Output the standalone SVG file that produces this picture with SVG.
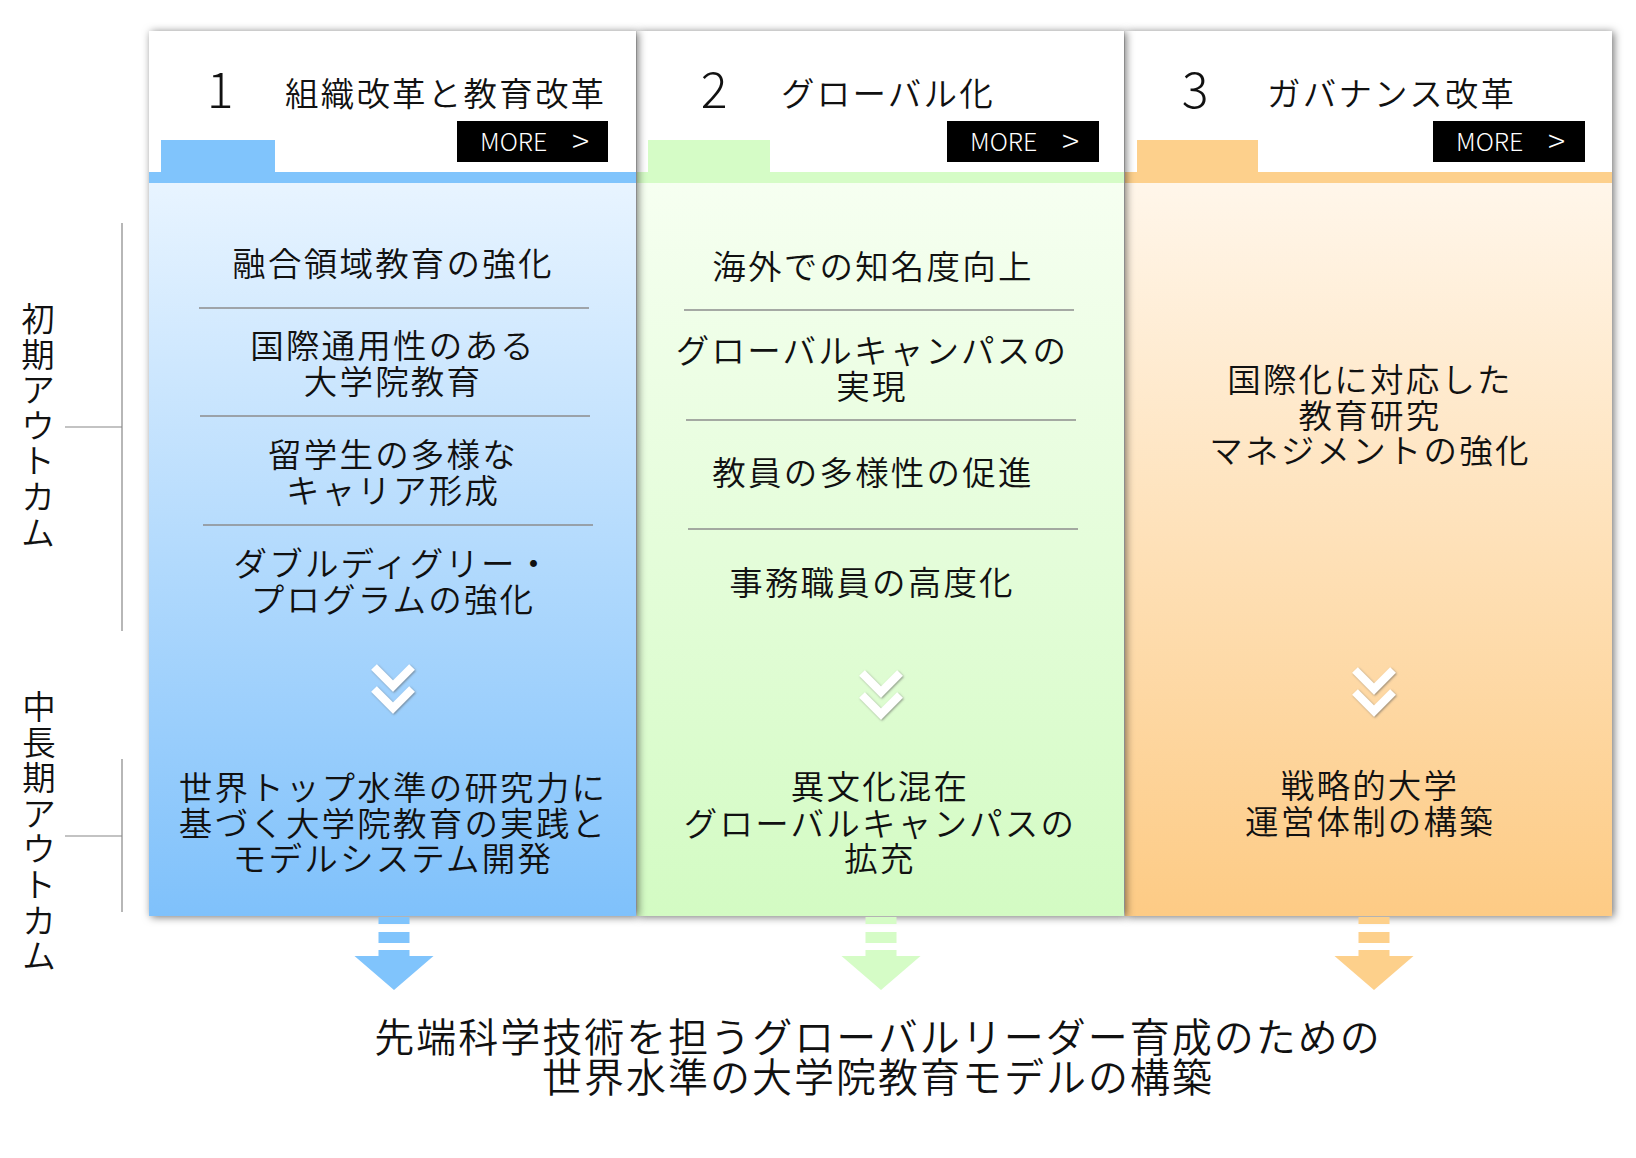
<svg xmlns="http://www.w3.org/2000/svg" width="1636" height="1158" viewBox="0 0 1636 1158">
<defs>
<linearGradient id="gBlue" x1="0" y1="0" x2="0" y2="1"><stop offset="0" stop-color="#e8f4ff"/><stop offset="1" stop-color="#7fc1fb"/></linearGradient>
<linearGradient id="gGreen" x1="0" y1="0" x2="0" y2="1"><stop offset="0" stop-color="#f6fff1"/><stop offset="1" stop-color="#d3fbc3"/></linearGradient>
<linearGradient id="gOrange" x1="0" y1="0" x2="0" y2="1"><stop offset="0" stop-color="#fff6ea"/><stop offset="1" stop-color="#fdcb85"/></linearGradient>
<filter id="sh" x="-10%" y="-10%" width="120%" height="120%"><feDropShadow dx="2" dy="1" stdDeviation="4" flood-color="#000" flood-opacity="0.55"/></filter>
<filter id="shc" x="-30%" y="-30%" width="160%" height="160%"><feDropShadow dx="1" dy="1" stdDeviation="1.2" flood-color="#555" flood-opacity="0.6"/></filter>
</defs>
<style>
.t{font-family:"Noto Sans CJK JP","Noto Sans",sans-serif;font-weight:350;fill:#111;font-size:33.5px;letter-spacing:2.2px}
.c{text-anchor:middle}
.num{font-family:"Noto Sans CJK JP","Noto Sans",sans-serif;font-weight:300;fill:#111;font-size:50px;text-anchor:middle}
.more{font-family:"Noto Sans CJK JP","Noto Sans",sans-serif;font-weight:300;fill:#fff;font-size:25px}
.gt{font-family:"Noto Sans CJK JP","Noto Sans",sans-serif;font-weight:300;fill:#fff;font-size:32px}
.big{font-family:"Noto Sans CJK JP","Noto Sans",sans-serif;font-weight:350;fill:#111;font-size:40px;letter-spacing:2px;text-anchor:middle}
.sep{stroke:#8c8c8c;stroke-width:1.5}
.brk{stroke:#888;stroke-width:1.2;fill:none}
.chev{fill:none;stroke:#fff;stroke-width:8;stroke-linejoin:miter;stroke-linecap:butt}
</style>

<!-- left labels -->
<g id="label-initial">
<path class="brk" d="M122 223V631M65 427H122"/>
<g class="t c">
<text x="39" y="331">初</text><text x="39" y="367">期</text><text x="39" y="402">ア</text><text x="39" y="438">ウ</text><text x="39" y="473">ト</text><text x="39" y="509">カ</text><text x="39" y="545">ム</text>
</g>
</g>
<g id="label-long">
<path class="brk" d="M122 759V912M65 836H122"/>
<g class="t c">
<text x="40" y="719">中</text><text x="40" y="755">長</text><text x="40" y="790">期</text><text x="40" y="826">ア</text><text x="40" y="861">ウ</text><text x="40" y="897">ト</text><text x="40" y="933">カ</text><text x="40" y="968">ム</text>
</g>
</g>

<!-- panel 3 -->
<g id="panel3">
<g filter="url(#sh)">
<rect x="1125" y="31" width="487" height="141" fill="#fff"/>
<rect x="1125" y="183" width="487" height="733" fill="url(#gOrange)"/>
<rect x="1125" y="172" width="487" height="11" fill="#fdd08c"/>
<rect x="1137" y="140" width="121" height="43" fill="#fdd08c"/>
</g>
<text class="num" x="1195" y="108">3</text>
<text class="t" x="1267" y="106">ガバナンス改革</text>
<rect x="1433" y="121" width="152" height="41" fill="#000"/>
<text class="more" x="1456" y="151">MORE</text><text class="gt" x="1548" y="153">&gt;</text>
<g class="t c">
<text x="1370" y="392">国際化に対応した</text>
<text x="1370" y="428">教育研究</text>
<text x="1370" y="463">マネジメントの強化</text>
<text x="1370" y="798">戦略的大学</text>
<text x="1370" y="834">運営体制の構築</text>
</g>
</g>

<!-- panel 2 -->
<g id="panel2">
<g filter="url(#sh)">
<rect x="637" y="31" width="487" height="141" fill="#fff"/>
<rect x="637" y="183" width="487" height="733" fill="url(#gGreen)"/>
<rect x="637" y="172" width="487" height="11" fill="#d5fcc6"/>
<rect x="648" y="140" width="122" height="43" fill="#d5fcc6"/>
</g>
<text class="num" x="714" y="108">2</text>
<text class="t" x="781" y="106">グローバル化</text>
<rect x="947" y="121" width="152" height="41" fill="#000"/>
<text class="more" x="970" y="151">MORE</text><text class="gt" x="1062" y="153">&gt;</text>
<line class="sep" x1="684" y1="310" x2="1074" y2="310"/>
<line class="sep" x1="686" y1="420" x2="1076" y2="420"/>
<line class="sep" x1="688" y1="529" x2="1078" y2="529"/>
<g class="t c">
<text x="873" y="279">海外での知名度向上</text>
<text x="872" y="363">グローバルキャンパスの</text>
<text x="872" y="399">実現</text>
<text x="873" y="485">教員の多様性の促進</text>
<text x="872" y="595">事務職員の高度化</text>
<text x="880" y="799">異文化混在</text>
<text x="880" y="836">グローバルキャンパスの</text>
<text x="880" y="871">拡充</text>
</g>
</g>

<!-- panel 1 -->
<g id="panel1">
<g filter="url(#sh)">
<rect x="149" y="31" width="487" height="141" fill="#fff"/>
<rect x="149" y="183" width="487" height="733" fill="url(#gBlue)"/>
<rect x="149" y="172" width="487" height="11" fill="#80c4fc"/>
<rect x="161" y="140" width="114" height="43" fill="#80c4fc"/>
</g>
<text class="num" x="220" y="108">1</text>
<text class="t" x="285" y="106">組織改革と教育改革</text>
<rect x="457" y="121" width="151" height="41" fill="#000"/>
<text class="more" x="480" y="151">MORE</text><text class="gt" x="572" y="153">&gt;</text>
<line class="sep" x1="199" y1="308" x2="589" y2="308"/>
<line class="sep" x1="200" y1="416" x2="590" y2="416"/>
<line class="sep" x1="203" y1="525" x2="593" y2="525"/>
<g class="t c">
<text x="393" y="276">融合領域教育の強化</text>
<text x="393" y="358">国際通用性のある</text>
<text x="393" y="394">大学院教育</text>
<text x="393" y="467">留学生の多様な</text>
<text x="393" y="503">キャリア形成</text>
<text x="393" y="576">ダブルディグリー・</text>
<text x="393" y="612">プログラムの強化</text>
<text x="393" y="800">世界トップ水準の研究力に</text>
<text x="393" y="836">基づく大学院教育の実践と</text>
<text x="393" y="871">モデルシステム開発</text>
</g>
</g>

<!-- connectors -->
<g id="connectors">
<g filter="url(#shc)">
<polyline class="chev" points="374,667 393,686 412,667"/>
<polyline class="chev" points="374,689 393,708 412,689"/>
<polyline class="chev" points="862,673 881,692 900,673"/>
<polyline class="chev" points="862,695 881,714 900,695"/>
<polyline class="chev" points="1355,670 1374,689 1393,670"/>
<polyline class="chev" points="1355,692 1374,711 1393,692"/>
</g>
<g fill="#80c4fc">
<rect x="378.5" y="917" width="31" height="7"/>
<rect x="378.5" y="932" width="31" height="11"/>
<path d="M378.5 950H409.5V956H433.5L394 990L354.5 956H378.5Z"/>
</g>
<g fill="#d5fcc6">
<rect x="865.5" y="917" width="31" height="7"/>
<rect x="865.5" y="932" width="31" height="11"/>
<path d="M865.5 950H896.5V956H920.5L881 990L841.5 956H865.5Z"/>
</g>
<g fill="#fdd08b">
<rect x="1358.5" y="917" width="31" height="7"/>
<rect x="1358.5" y="932" width="31" height="11"/>
<path d="M1358.5 950H1389.5V956H1413.5L1374 990L1334.5 956H1358.5Z"/>
</g>
</g>

<!-- goal -->
<g id="goal">
<text class="big" x="878" y="1052">先端科学技術を担うグローバルリーダー育成のための</text>
<text class="big" x="878" y="1092">世界水準の大学院教育モデルの構築</text>
</g>
</svg>
